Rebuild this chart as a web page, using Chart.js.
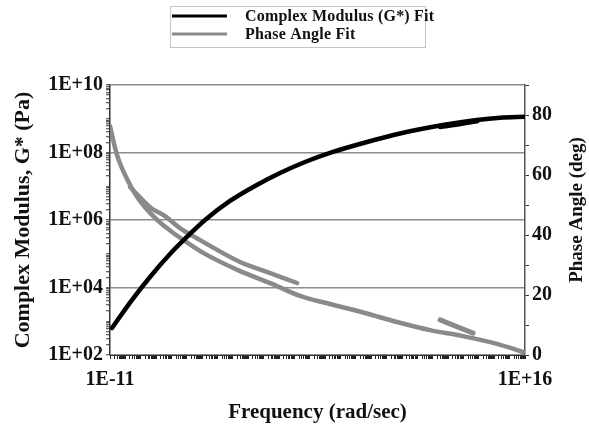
<!doctype html>
<html lang="en">

<head>
    <meta charset="utf-8">
    <title>Complex Modulus and Phase Angle</title>
    <script src="https://cdn.jsdelivr.net/npm/chart.js"></script>
    <style>
        body {
            margin: 0;
            background: #ffffff;
        }

        .wrap {
            width: 589px;
            height: 427px;
        }
    </style>
</head>

<body>
    <div class="wrap">
        <canvas id="chart" width="589" height="427"></canvas>
    </div>

    <script>
        // master curve fit, complex modulus (Pa) vs frequency (rad/sec)
        const gFreq = [1.35e-11, 2.3e-10, 4.0e-9, 8.0e-8, 1.6e-6, 1.52e-5, 6.4e-4, 2.7e-2, 1.15, 48.6, 3.2e3, 5.3e5, 7.4e7, 4.6e10, 7.5e12, 2.4e14, 1e16];
        const gModulus = [630, 3870, 2.05e4, 9.8e4, 3.85e5, 1.0e6, 3.66e6, 1.02e7, 2.47e7, 5.24e7, 1.04e8, 2.05e8, 3.66e8, 6.5e8, 9.2e8, 1.07e9, 1.14e9];

        // second pass over the upper end of the modulus fit
        const gFreq2 = [3e10, 7.6e11, 7.6e12];
        const gModulus2 = [5.8e8, 7.2e8, 8.6e8];

        // phase angle fit (deg)
        const phaseFreq = [1e-11, 2.85e-11, 1.48e-10, 6.6e-10, 8.5e-9, 1.08e-7, 1.19e-6, 1.52e-5, 2.1e-3, 0.35, 23, 2.06e3, 3.9e5, 4.7e7, 6.6e9, 9.2e11, 1.5e14, 7.4e15];
        const phaseAngle = [76.3, 66.7, 58, 52.3, 45.7, 41, 37.3, 33.7, 28.3, 23.7, 19.7, 17, 14, 11, 8.3, 6.3, 3.7, 1];

        // shifted phase angle segments
        const phaseFreq2 = [2.0e-10, 4.7e-9, 3.8e-8, 3.6e-7, 7.3e-6, 2.9e-3, 0.16, 15];
        const phaseAngle2 = [56, 49, 46.3, 42.3, 38.3, 31, 27.7, 24];
        const phaseFreq3 = [3e10, 4.2e12];
        const phaseAngle3 = [11.7, 7.3];

        // axis labels
        const leftTickValues = [1e2, 1e4, 1e6, 1e8, 1e10];
        const leftTickLabels = ['1E+02', '1E+04', '1E+06', '1E+08', '1E+10'];
        const rightTickLabels = [0, 20, 40, 60, 80];
        const xTickValues = [1e-11, 1e16];
        const xTickLabels = ['1E-11', '1E+16'];

        const serif = "'Liberation Serif', 'Times New Roman', serif";
        const ink = '#111111';
        const gridGrey = '#8c8c8c';
        const lineGrey = '#8a8a8a';

        const pts = (xs, ys) => xs.map((x, i) => ({ x: x, y: ys[i] }));

        // every 1..9 x 10^n between two decades
        function logTicks(fromExp, toExp) {
            const out = [];
            for (let e = fromExp; e < toExp; e++) {
                for (let m = 1; m <= 9; m++) out.push({ value: Number(m + 'e' + e) });
            }
            out.push({ value: Number('1e' + toExp) });
            return out;
        }

        function labelFor(value, values, labels) {
            const i = values.findIndex(v => Math.abs(v - value) / v < 1e-9);
            return i >= 0 ? labels[i] : '';
        }

        // two-row legend in a box
        const boxLegend = {
            id: 'boxLegend',
            afterDraw(chart) {
                const ctx = chart.ctx;
                ctx.save();
                ctx.strokeStyle = '#c4c4c4';
                ctx.lineWidth = 1;
                ctx.strokeRect(170.5, 6.5, 255, 41);
                const rows = chart.data.datasets.filter(d => d.inLegend);
                rows.forEach((d, i) => {
                    const y = 16 + i * 18;
                    ctx.strokeStyle = d.borderColor;
                    ctx.lineWidth = 3;
                    ctx.beginPath();
                    ctx.moveTo(172, y);
                    ctx.lineTo(227, y);
                    ctx.stroke();
                    ctx.fillStyle = ink;
                    ctx.font = 'bold 16px ' + serif;
                    ctx.letterSpacing = '0.2px';
                    ctx.textBaseline = 'middle';
                    ctx.textAlign = 'left';
                    ctx.fillText(d.label, 245, y + 1);
                });
                ctx.restore();
            }
        };

        // right-hand title reads bottom to top, same as the left one
        const rightTitle = {
            id: 'rightTitle',
            afterDraw(chart) {
                const ctx = chart.ctx;
                ctx.save();
                ctx.translate(577, 210);
                ctx.rotate(-Math.PI / 2);
                ctx.fillStyle = ink;
                ctx.font = 'bold 19px ' + serif;
                ctx.textAlign = 'center';
                ctx.textBaseline = 'middle';
                ctx.fillText('Phase Angle (deg)', 0, 0);
                ctx.restore();
            }
        };

        new Chart(document.getElementById('chart'), {
            type: 'line',
            data: {
                datasets: [{
                    label: 'Complex Modulus (G*) Fit',
                    inLegend: true,
                    data: pts(gFreq, gModulus),
                    borderColor: '#000000',
                    borderWidth: 4.5,
                    yAxisID: 'y'
                }, {
                    label: 'Phase Angle Fit',
                    inLegend: true,
                    data: pts(phaseFreq, phaseAngle),
                    borderColor: lineGrey,
                    borderWidth: 4.5,
                    yAxisID: 'y1'
                }, {
                    label: 'G* segment',
                    data: pts(gFreq2, gModulus2),
                    borderColor: '#000000',
                    borderWidth: 5,
                    yAxisID: 'y'
                }, {
                    label: 'phase segment a',
                    data: pts(phaseFreq2, phaseAngle2),
                    borderColor: lineGrey,
                    borderWidth: 4.5,
                    yAxisID: 'y1'
                }, {
                    label: 'phase segment b',
                    data: pts(phaseFreq3, phaseAngle3),
                    borderColor: lineGrey,
                    borderWidth: 5,
                    yAxisID: 'y1'
                }]
            },
            options: {
                responsive: false,
                animation: false,
                events: [],
                layout: { padding: { top: 85, left: 0, right: 0, bottom: 0 } },
                elements: {
                    point: { radius: 0 },
                    line: { cubicInterpolationMode: 'monotone', borderCapStyle: 'round' }
                },
                plugins: {
                    legend: { display: false },
                    tooltip: { enabled: false }
                },
                scales: {
                    x: {
                        type: 'logarithmic',
                        min: 1e-11,
                        max: 1e16,
                        afterBuildTicks: axis => { axis.ticks = logTicks(-11, 16); },
                        afterFit: axis => { axis.height = 72; },
                        ticks: {
                            autoSkip: false,
                            maxRotation: 0,
                            padding: 9,
                            color: ink,
                            font: { family: serif, size: 20, weight: 'bold' },
                            callback: v => labelFor(v, xTickValues, xTickLabels)
                        },
                        grid: { drawOnChartArea: false, tickLength: 4, tickColor: '#222222', tickWidth: 1 },
                        border: { color: '#333333', width: 1 },
                        title: {
                            display: true,
                            text: 'Frequency (rad/sec)',
                            color: ink,
                            padding: { top: 0, bottom: 2 },
                            font: { family: serif, size: 21, weight: 'bold' }
                        }
                    },
                    y: {
                        type: 'logarithmic',
                        position: 'left',
                        min: 1e2,
                        max: 1e10,
                        afterBuildTicks: axis => { axis.ticks = logTicks(2, 10); },
                        afterFit: axis => { axis.width = 110; },
                        ticks: {
                            autoSkip: false,
                            padding: 3,
                            color: ink,
                            font: { family: serif, size: 20, weight: 'bold' },
                            callback: v => labelFor(v, leftTickValues, leftTickLabels)
                        },
                        grid: {
                            tickLength: 4,
                            tickColor: '#333333',
                            tickWidth: 1,
                            color: c => labelFor(c.tick.value, leftTickValues, leftTickLabels) ? gridGrey : 'rgba(0,0,0,0)',
                            lineWidth: 1.5
                        },
                        border: { color: '#333333', width: 1.5 },
                        title: {
                            display: true,
                            text: 'Complex Modulus, G* (Pa)',
                            color: ink,
                            padding: { top: 10, bottom: 0 },
                            font: { family: serif, size: 22, weight: 'bold' }
                        }
                    },
                    y1: {
                        type: 'linear',
                        position: 'right',
                        min: 0,
                        max: 90,
                        afterFit: axis => { axis.width = 64; },
                        ticks: {
                            stepSize: 10,
                            autoSkip: false,
                            padding: 3,
                            color: ink,
                            font: { family: serif, size: 20, weight: 'bold' },
                            callback: v => rightTickLabels.includes(v) ? String(v) : ''
                        },
                        grid: { drawOnChartArea: false, tickLength: 4, tickColor: '#333333' },
                        border: { color: '#555555', width: 1.5 },
                        title: { display: false }
                    }
                }
            },
            plugins: [boxLegend, rightTitle]
        });
    </script>
</body>

</html>
